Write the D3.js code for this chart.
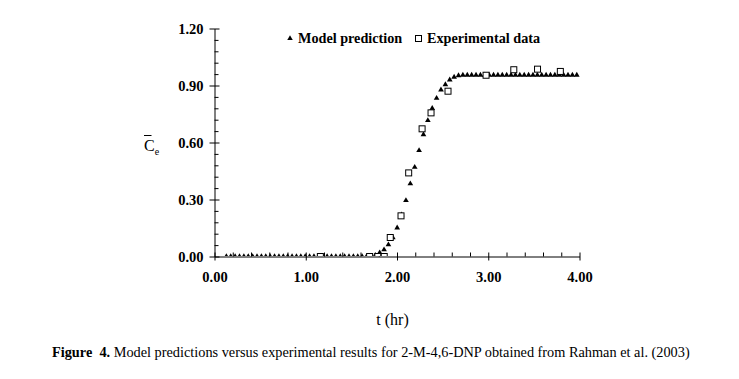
<!DOCTYPE html>
<html><head><meta charset="utf-8">
<script src="https://cdn.jsdelivr.net/npm/d3@7"></script>
<style>body{margin:0;background:#fff}svg{display:block}</style>
</head><body><svg id="c" width="739" height="379"></svg>
<script>
// ---- data ----
const modelT = [0.130,0.178,0.226,0.274,0.322,0.370,0.418,0.466,0.514,0.562,
  0.610,0.658,0.706,0.754,0.802,0.850,0.898,0.946,0.994,1.042,
  1.090,1.138,1.186,1.234,1.282,1.330,1.378,1.426,1.474,1.522,
  1.570,1.618,1.666,1.714,1.762,1.810,1.858,1.906,1.954,2.002,
  2.050,2.098,2.146,2.194,2.242,2.290,2.338,2.386,2.434,2.482,
  2.530,2.578,2.626,2.674,2.722,2.770,2.818,2.866,2.914,2.962,
  3.010,3.058,3.106,3.154,3.202,3.250,3.298,3.346,3.394,3.442,
  3.490,3.538,3.586,3.634,3.682,3.730,3.778,3.826,3.874,3.922,3.970];
const modelC = [0,0,0,0,0,0,0,0,0,0,
  0,0,0,0,0,0,0,0,0,0,
  0,0,0,0,0,0,0,0,0,0,
  0,0,0,0,0.006,0.020,0.036,0.062,0.100,0.151,
  0.220,0.295,0.383,0.470,0.558,0.642,0.716,0.780,0.833,0.877,
  0.905,0.930,0.944,0.952,0.955,0.955,0.955,0.955,0.955,0.955,
  0.955,0.955,0.955,0.955,0.955,0.955,0.955,0.955,0.955,0.955,
  0.955,0.955,0.955,0.955,0.955,0.955,0.955,0.955,0.955,0.955,0.955];
const expT = [1.16,1.70,1.79,1.86,1.926,2.044,2.128,2.275,2.373,2.559,2.976,3.28,3.54,3.79];
const expC = [0,0,0,0,0.10,0.214,0.44,0.672,0.756,0.870,0.954,0.983,0.986,0.974];
const xMajorTicks = [0,1,2,3,4];
const xMinorTicks = [0.2,0.4,0.6,0.8,1.2,1.4,1.6,1.8,2.2,2.4,2.6,2.8,3.2,3.4,3.6,3.8];
const yMajorTicks = [0,0.3,0.6,0.9,1.2];
const yMinorTicks = [0.06,0.12,0.18,0.24,0.36,0.42,0.48,0.54,0.66,0.72,0.78,0.84,0.96,1.02,1.08,1.14];
const legendLabels = ["Model prediction","Experimental data"];
const xTitle = "t (hr)";
const captionBold = "Figure  4.";
const captionText = " Model predictions versus experimental results for 2-M-4,6-DNP obtained from Rahman et al. (2003)";

// ---- chart ----
const FONT = "'Liberation Serif','Times New Roman',serif";
const svg = d3.select("#c");
svg.append("rect").attr("width",739).attr("height",379).attr("fill","#fff");
const x = d3.scaleLinear().domain([0,4]).range([214.5,579.5]);
const y = d3.scaleLinear().domain([0,1.2]).range([256.5,28.5]);

// axes
const gy = svg.append("g").attr("transform",`translate(${x(0)},0)`)
  .call(d3.axisLeft(y).tickValues(yMajorTicks).tickFormat(d3.format(".2f")).tickSizeOuter(0).tickSizeInner(5));
gy.selectAll(".tick line").attr("x1",-5).attr("x2",5);
gy.selectAll(".tick text").attr("x",-11).attr("dy","0.35em");
const gym = svg.append("g").attr("transform",`translate(${x(0)},0)`)
  .call(d3.axisRight(y).tickValues(yMinorTicks).tickFormat("").tickSizeOuter(0).tickSizeInner(4));
gym.select(".domain").remove();

const gx = svg.append("g").attr("transform",`translate(0,${y(0)})`)
  .call(d3.axisBottom(x).tickValues(xMajorTicks).tickFormat(d3.format(".2f")).tickSizeOuter(0).tickSizeInner(4));
gx.selectAll(".tick line").attr("y1",-4).attr("y2",4);
gx.selectAll(".tick text").attr("y",15).attr("dy","0.71em");
const gxm = svg.append("g").attr("transform",`translate(0,${y(0)})`)
  .call(d3.axisTop(x).tickValues(xMinorTicks).tickFormat("").tickSizeOuter(0).tickSizeInner(4));
gxm.select(".domain").remove();

svg.selectAll(".tick text").attr("font-family",FONT).attr("font-size",14.5).attr("font-weight","bold").attr("fill","#000");
svg.selectAll(".domain, .tick line").attr("stroke","#000").attr("stroke-width",1);

// clip for data
svg.append("clipPath").attr("id","clip").append("rect")
  .attr("x",x(0)).attr("y",0).attr("width",x(4)-x(0)+10).attr("height",y(0)-0.5);

const plot = svg.append("g").attr("clip-path","url(#clip)");
const tri = d3.symbol().type(d3.symbolTriangle).size(14);
plot.selectAll("path.m").data(modelT).join("path").attr("class","m")
  .attr("d",tri).attr("fill","#000")
  .attr("transform",(d,i)=>`translate(${x(d)},${y(modelC[i])})`);
plot.selectAll("rect.e").data(expT).join("rect").attr("class","e")
  .attr("x",d=>x(d)-3).attr("y",(d,i)=>y(expC[i])-3)
  .attr("width",6).attr("height",6).attr("fill","#fff").attr("stroke","#000").attr("stroke-width",1);

// legend
const lg = svg.append("g");
lg.append("path").attr("d",d3.symbol().type(d3.symbolTriangle).size(13)).attr("transform","translate(290,38.5)").attr("fill","#000");
lg.append("text").attr("x",298).attr("y",43).text(legendLabels[0]);
lg.append("rect").attr("x",415.5).attr("y",35.5).attr("width",6).attr("height",6).attr("fill","#fff").attr("stroke","#000");
lg.append("text").attr("x",427).attr("y",43).text(legendLabels[1]);
lg.selectAll("text").attr("font-family",FONT).attr("font-size",14.2).attr("font-weight","bold").attr("fill","#000");

// axis titles
svg.append("text").attr("x",392.5).attr("y",325).attr("text-anchor","middle")
  .attr("font-family",FONT).attr("font-size",16).attr("fill","#000").text(xTitle);
const cT = svg.append("text").attr("x",144).attr("y",150.5).attr("font-family",FONT).attr("font-size",16).attr("fill","#000");
cT.append("tspan").text("C");
cT.append("tspan").attr("font-size",10).attr("dy",4).text("e");
svg.append("line").attr("x1",144).attr("x2",151.5).attr("y1",135.5).attr("y2",135.5).attr("stroke","#000").attr("stroke-width",1);

// caption
const cap = svg.append("text").attr("x",52).attr("y",357).attr("font-family",FONT).attr("font-size",14.3).attr("fill","#000").style("white-space","pre");
cap.append("tspan").attr("font-weight","bold").text(captionBold);
cap.append("tspan").text(captionText);
</script></body></html>
